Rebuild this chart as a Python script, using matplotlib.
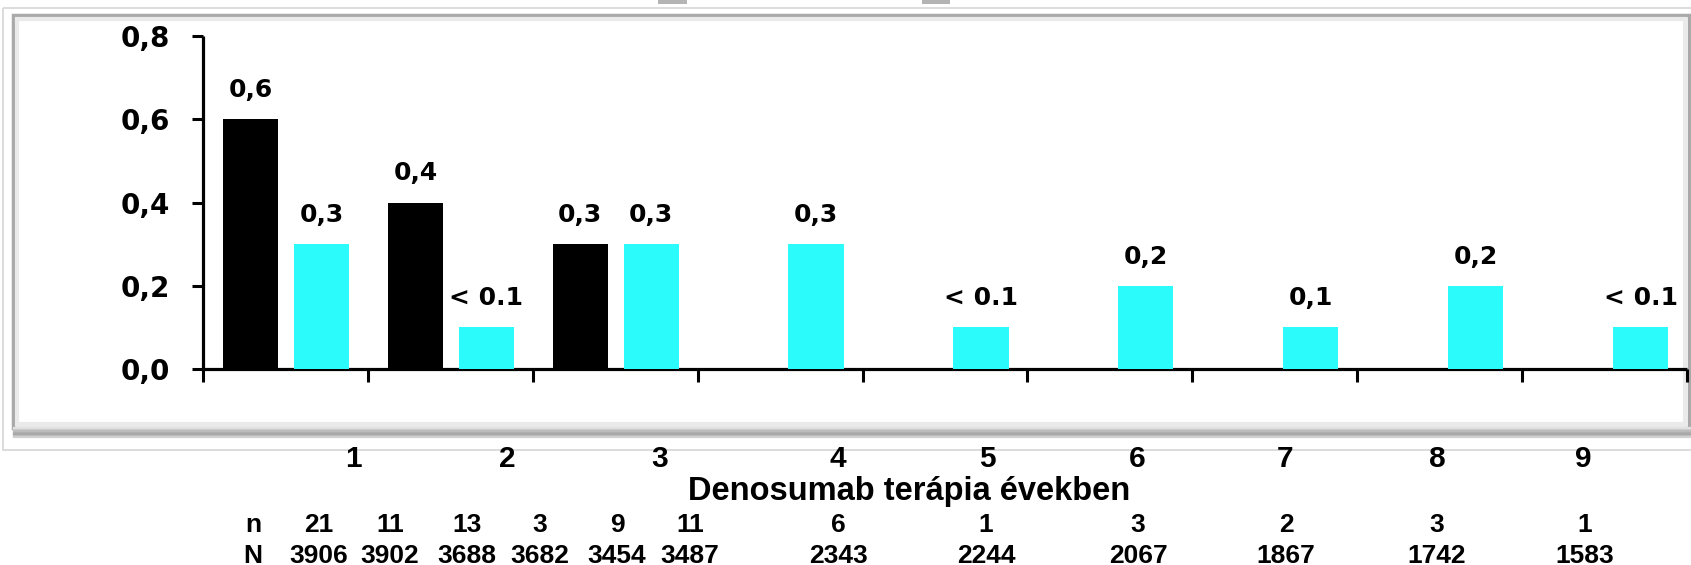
import matplotlib
matplotlib.use("Agg")
import matplotlib.pyplot as plt
from matplotlib.patches import Rectangle
import numpy as np

# ---------------- data ----------------
years = ["1", "2", "3", "4", "5", "6", "7", "8", "9"]
black_values = [0.6, 0.4, 0.3]                 # first three years only
black_labels = ["0,6", "0,4", "0,3"]
cyan_values = [0.3, 0.1, 0.3, 0.3, 0.1, 0.2, 0.1, 0.2, 0.1]
cyan_labels = ["0,3", "< 0.1", "0,3", "0,3", "< 0.1", "0,2", "0,1", "0,2", "< 0.1"]
n_values = [21, 11, 13, 3, 9, 11, 6, 1, 3, 2, 3, 1]
N_values = [3906, 3902, 3688, 3682, 3454, 3487, 2343, 2244, 2067, 1867, 1742, 1583]
y_ticks = [0.0, 0.2, 0.4, 0.6, 0.8]
x_title = "Denosumab terápia években"

# ---------------- layout (pixels) ----------------
W, H = 1691, 565
year_label_x = [353, 507, 660, 838, 987, 1137, 1285, 1437, 1583]
col_x = [319, 390, 467, 540, 617, 690, 838, 986, 1138, 1286, 1437, 1585]
row_label_x = 253

CYAN = "#2CFBFB"
inner_font = ["DejaVu Sans"]
outer_font = ["Liberation Sans", "DejaVu Sans"]

fig = plt.figure(figsize=(W / 100, H / 100), dpi=100)
fig.patch.set_facecolor("white")

# background axes in pixel coords
bg = fig.add_axes([0, 0, 1, 1], zorder=0)
bg.set_xlim(0, W)
bg.set_ylim(H, 0)
bg.axis("off")

# outer thin frame
bg.add_patch(Rectangle((3, 8), W, 442, fill=False, ec="#D6D6D6", lw=1.2))
# panel shadow bands (bottom)
for i, c in enumerate(["#E2E2E2", "#CFCFCF", "#BDBDBD", "#B0B0B0", "#A8A8A8", "#B8B8B8", "#D0D0D0"]):
    bg.add_line(plt.Line2D([14, 1690], [428 + i * 1.5, 428 + i * 1.5], color=c, lw=1.6))
# panel
bg.add_patch(Rectangle((13, 15), 1676, 413, fc="white", ec="#A9A9A9", lw=2.5))
bg.add_patch(Rectangle((17, 19), 1668, 405, fill=False, ec="#EAEAEA", lw=3))
# small gray artifacts at top
bg.add_patch(Rectangle((658, 0), 29, 4, fc="#B4B4B4", ec="none"))
bg.add_patch(Rectangle((922, 0), 28, 4, fc="#B4B4B4", ec="none"))

# ---------------- main axes ----------------
left, right = 203 / W, 1687 / W
bottom, top = (H - 369) / H, (H - 36) / H
ax = fig.add_axes([left, bottom, right - left, top - bottom], zorder=2)
ax.patch.set_alpha(0)

ncat = len(years)
centers = np.arange(ncat) + 0.5
bw = 0.335
xb = centers[:len(black_values)] - 0.212
xc = centers + 0.218

ax.bar(xb, black_values, width=bw, color="black", zorder=3)
ax.bar(xc, cyan_values, width=bw, color=CYAN, zorder=3)

lab_kw = dict(ha="center", va="center", fontsize=18, fontweight="bold",
              family=inner_font, textcoords="offset points", color="black")
for x, v, s in zip(xb, black_values, black_labels):
    ax.annotate(s, (x, v), xytext=(0, 21), **lab_kw)
for x, v, s in zip(xc, cyan_values, cyan_labels):
    ax.annotate(s, (x, v), xytext=(0, 21), **lab_kw)

ax.set_xlim(0, ncat)
ax.set_ylim(0, 0.8)
ax.set_xticks(np.arange(ncat + 1))
ax.set_xticklabels([])
ax.set_yticks(y_ticks)
ax.set_yticklabels([f"{t:.1f}".replace(".", ",") for t in y_ticks],
                   fontsize=20, fontweight="bold", family=inner_font)
for s in ["top", "right"]:
    ax.spines[s].set_visible(False)
for s in ["left", "bottom"]:
    ax.spines[s].set_linewidth(2.3)
    ax.spines[s].set_color("black")
    ax.spines[s].set_capstyle("butt")
ax.tick_params(axis="y", direction="out", length=8, width=2.2, pad=16, colors="black")
ax.tick_params(axis="x", direction="out", length=9, width=2.2, colors="black")

# ---------------- text below panel ----------------
for x, s in zip(year_label_x, years):
    bg.text(x, 467, s, ha="center", va="baseline", fontsize=21.5,
            fontweight="bold", family=outer_font)
bg.text(909, 500, x_title, ha="center", va="baseline", fontsize=23.5,
        fontweight="bold", family=outer_font)
bg.text(row_label_x, 532, "n", ha="center", va="baseline", fontsize=19,
        fontweight="bold", family=outer_font)
bg.text(row_label_x, 563, "N", ha="center", va="baseline", fontsize=19,
        fontweight="bold", family=outer_font)
for x, v in zip(col_x, n_values):
    bg.text(x, 532, str(v), ha="center", va="baseline", fontsize=19,
            fontweight="bold", family=outer_font)
for x, v in zip(col_x, N_values):
    bg.text(x, 563, str(v), ha="center", va="baseline", fontsize=19,
            fontweight="bold", family=outer_font)

fig.savefig("out.png", dpi=100)
